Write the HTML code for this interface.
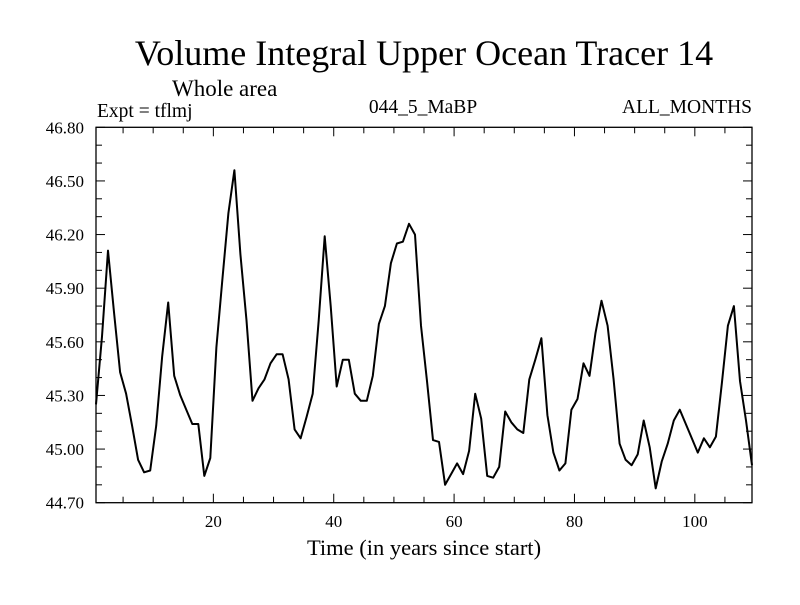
<!DOCTYPE html>
<html><head><meta charset="utf-8"><style>
body{margin:0;background:#fff;}
svg text{font-family:"Liberation Serif",serif;fill:#000;}
</style></head><body>
<svg width="800" height="600" id="c">
<text x="424" y="65" font-size="36" text-anchor="middle">Volume Integral Upper Ocean Tracer 14</text>
<text x="172" y="96" font-size="23">Whole area</text>
<text x="97" y="117" font-size="19.5">Expt = tflmj</text>
<text x="423" y="113" font-size="19.5" text-anchor="middle">044_5_MaBP</text>
<text x="752" y="113" font-size="19.5" text-anchor="end">ALL_MONTHS</text>
<text x="424" y="555" font-size="22.5" text-anchor="middle">Time (in years since start)</text>
<rect x="96" y="127.3" width="656" height="375.4" fill="none" stroke="#000" stroke-width="1.3"/>
<g id="axes"></g>
<path id="line" fill="none" stroke="#000" stroke-width="2" stroke-linejoin="round"/>
</svg>
<script>
const years=[];for(let i=0;i<110;i++)years.push(i+0.5);
const values=[45.25,45.63,46.11,45.76,45.43,45.31,45.13,44.94,44.87,44.88,45.13,45.52,45.82,45.41,45.30,45.22,45.14,45.14,44.85,44.95,
45.57,45.95,46.32,46.56,46.09,45.72,45.27,45.34,45.39,45.48,45.53,45.53,45.39,45.11,45.06,45.18,45.31,45.72,46.19,45.80,
45.35,45.50,45.50,45.31,45.27,45.27,45.41,45.70,45.80,46.04,46.15,46.16,46.26,46.20,45.69,45.38,45.05,45.04,44.80,44.86,
44.92,44.86,44.99,45.31,45.17,44.85,44.84,44.90,45.21,45.15,45.11,45.09,45.39,45.50,45.62,45.19,44.98,44.88,44.92,45.22,
45.28,45.48,45.41,45.65,45.83,45.69,45.39,45.03,44.94,44.91,44.97,45.16,45.01,44.78,44.93,45.03,45.16,45.22,45.14,45.06,
44.98,45.06,45.01,45.07,45.37,45.69,45.80,45.38,45.16,44.91];
const yTicks=["44.70","45.00","45.30","45.60","45.90","46.20","46.50","46.80"];
const xTicks=["20","40","60","80","100"];
const X0=96,X1=752,Y0=502.7,Y1=127.3,xmin=0.5,xmax=109.5,ymin=44.7,ymax=46.8;
const xs=v=>X0+(v-xmin)/(xmax-xmin)*(X1-X0);
const ys=v=>Y0-(v-ymin)/(ymax-ymin)*(Y0-Y1);
const NS="http://www.w3.org/2000/svg",g=document.getElementById('axes');
function ln(x1,y1,x2,y2,n){const l=document.createElementNS(NS,'line');
l.setAttribute('x1',x1);l.setAttribute('y1',y1);l.setAttribute('x2',x2);l.setAttribute('y2',y2);
l.setAttribute('stroke','#000');l.setAttribute('stroke-width','1');


g.appendChild(l);}
function tx(x,y,s,a,n,fs){const t=document.createElementNS(NS,'text');
t.setAttribute('x',x);t.setAttribute('y',y);t.setAttribute('font-size',fs);t.setAttribute('text-anchor',a);t.textContent=s;


g.appendChild(t);}
for(let k=0;k<=21;k++){const v=ymin+k*0.1,y=ys(v),L=(k%3==0)?9:6;
ln(X0,y,X0+L,y,'y-tick');ln(X1-L,y,X1,y,'y-tick');}
yTicks.forEach(s=>tx(84,ys(+s)+6,s,'end','y-tick-label','17'));
for(let v=5;v<=105;v+=5){const x=xs(v),L=(v%20==0)?9:6;
ln(x,Y0,x,Y0-L,'x-tick');ln(x,Y1,x,Y1+L,'x-tick');}
xTicks.forEach(s=>tx(xs(+s),527,s,'middle','x-tick-label','17'));
document.getElementById('line').setAttribute('d',values.map((v,i)=>(i?'L':'M')+xs(years[i]).toFixed(1)+','+ys(v).toFixed(1)).join(''));
</script>
</body></html>
